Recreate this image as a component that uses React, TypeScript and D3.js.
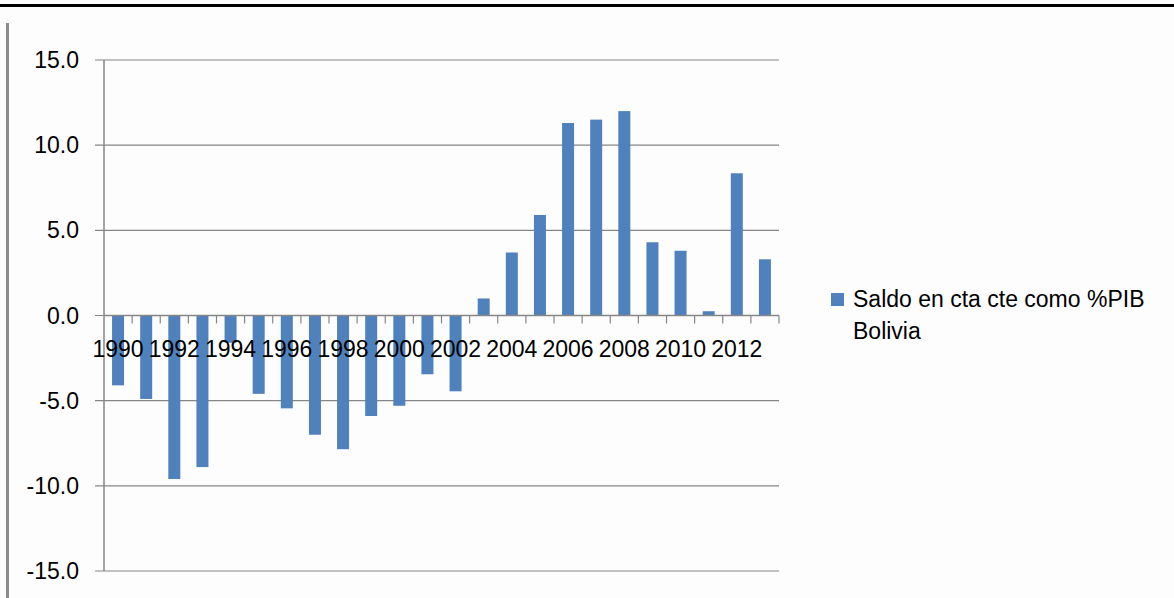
import React from "react";
import * as d3 from "d3";

const years = [
  "1990", "1991", "1992", "1993", "1994", "1995", "1996", "1997", "1998", "1999", "2000", "2001",
  "2002", "2003", "2004", "2005", "2006", "2007", "2008", "2009", "2010", "2011", "2012", "2013",
];
const saldo = [
  -4.1, -4.9, -9.6, -8.9, -1.6, -4.6, -5.45, -7.0, -7.85, -5.9, -5.3, -3.45,
  -4.45, 1.0, 3.7, 5.9, 11.3, 11.5, 12.0, 4.3, 3.8, 0.25, 8.35, 3.3,
];
const yTicks = [-15, -10, -5, 0, 5, 10, 15];
const seriesName = ["Saldo en cta cte como %PIB", "Bolivia"];

const W = 1174;
const H = 598;
const left = 104;
const right = 779;
const top = 60;
const bottom = 571;
const font = "'Liberation Sans', Arial, sans-serif";
const barColor = "#4f81bd";
const gridColor = "#868686";

export default function App() {
  const x = d3.scaleBand<string>().domain(years).range([left, right]).paddingInner(0).paddingOuter(0);
  const y = d3.scaleLinear().domain([-15, 15]).range([bottom, top]);
  const bw = 12;
  const y0 = y(0);

  return (
    <svg width={W} height={H} style={{ position: "absolute", left: 0, top: 0, background: "#fdfdfd" }}>
      <rect x={0} y={0} width={W} height={H} fill="#fdfdfd" />
      {/* top border */}
      <rect x={0} y={4} width={W} height={3} fill="#000" />
      {/* left gray bar */}
      <rect x={6} y={23} width={3} height={H - 23} fill="#8c8c8c" />

      {/* gridlines */}
      {yTicks.map((t) => (
        <g key={t}>
          <line x1={95} x2={right} y1={y(t)} y2={y(t)} stroke={gridColor} strokeWidth={1.2} />
          <text
            x={79}
            y={y(t)}
            textAnchor="end"
            dominantBaseline="central"
            fontFamily={font}
            fontSize={23}
            fill="#000"
          >
            {t.toFixed(1)}
          </text>
        </g>
      ))}

      {/* y axis */}
      <line x1={left} x2={left} y1={top} y2={bottom} stroke={gridColor} strokeWidth={1.5} />

      {/* bars */}
      {saldo.map((v, i) => {
        const cx = (x(years[i]) as number) + x.bandwidth() / 2;
        const yv = y(v);
        return (
          <rect
            key={years[i]}
            x={cx - bw / 2}
            y={Math.min(yv, y0)}
            width={bw}
            height={Math.abs(yv - y0)}
            fill={barColor}
          />
        );
      })}

      {/* x axis line and ticks */}
      <line x1={left} x2={right} y1={y0} y2={y0} stroke={gridColor} strokeWidth={1.5} />
      {years.map((yr, i) => {
        const bx = (x(yr) as number) + x.bandwidth();
        return <line key={"t" + yr} x1={bx} x2={bx} y1={y0} y2={y0 + 8} stroke={gridColor} strokeWidth={1.2} />;
      })}
      {years.map((yr, i) =>
        i % 2 === 0 ? (
          <text
            key={"l" + yr}
            x={(x(yr) as number) + x.bandwidth() / 2}
            y={357}
            textAnchor="middle"
            fontFamily={font}
            fontSize={23}
            fill="#000"
          >
            {yr}
          </text>
        ) : null
      )}

      {/* legend */}
      <rect x={831} y={293} width={13} height={13} fill={barColor} />
      <text x={853} y={307} fontFamily={font} fontSize={23} fill="#000">
        {seriesName[0]}
      </text>
      <text x={853} y={339} fontFamily={font} fontSize={23} fill="#000">
        {seriesName[1]}
      </text>
    </svg>
  );
}
